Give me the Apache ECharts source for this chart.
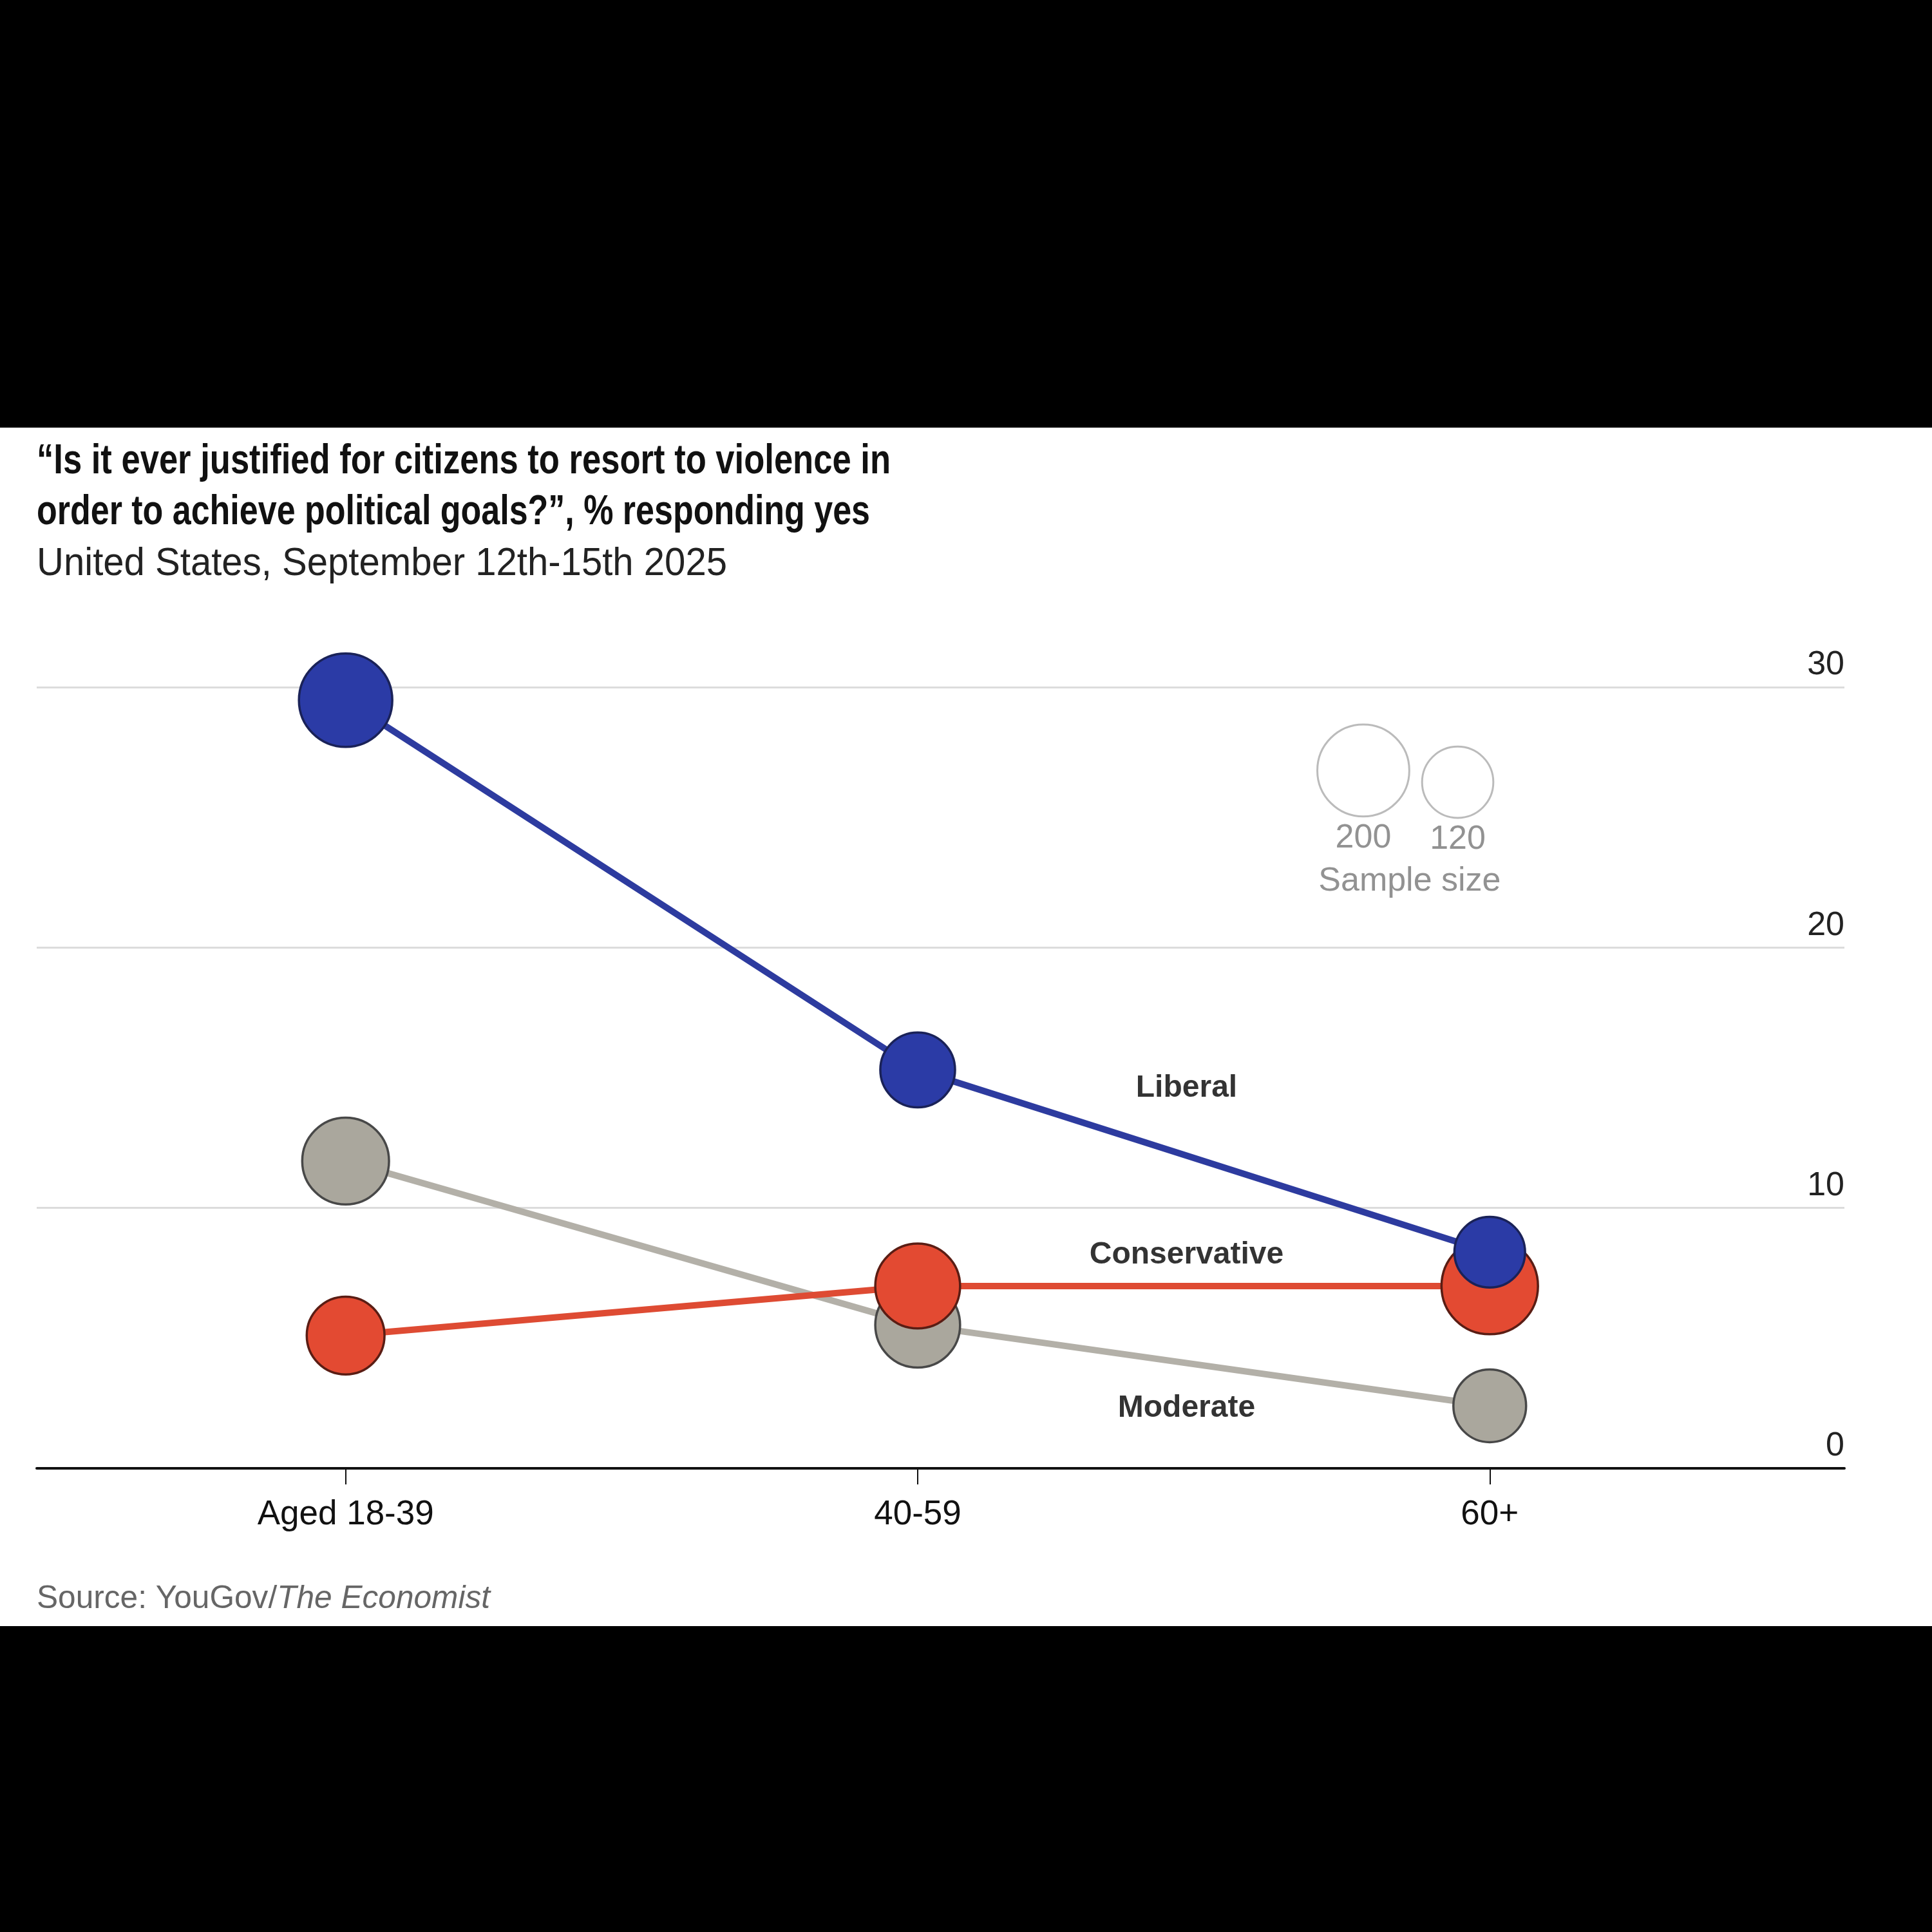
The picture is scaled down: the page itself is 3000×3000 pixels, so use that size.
<!DOCTYPE html>
<html>
<head>
<meta charset="UTF-8">
<title>Political violence by age and ideology</title>
<script src="https://cdn.jsdelivr.net/npm/echarts@6/dist/echarts.min.js"></script>
<style>
  html, body { margin: 0; padding: 0; background: #000; }
  #chart { position: absolute; left: 0; top: 664px; width: 3000px; height: 1861px; background: #fff; }
</style>
</head>
<body>
<div id="chart"></div>
<script>
// age groups on the x axis
const ageGroups = ["Aged 18-39", "40-59", "60+"];

// % responding yes
const liberal = [29.5, 15.3, 8.3];
const conservative = [5.1, 7.0, 7.0];
const moderate = [11.8, 5.5, 2.4];

// sample sizes (drive bubble size)
const liberalSample = [206, 132, 118];
const conservativeSample = [143, 170, 220];
const moderateSample = [178, 170, 125];

const yTicks = [0, 10, 20, 30];
const legendSamples = [200, 120];

// where the text annotations sit, in data units
const seriesLabelAt = { Liberal: [1.47, 14.6], Conservative: [1.47, 8.2], Moderate: [1.47, 2.3] };
const legendAt = [[1.779, 26.8], [1.944, 26.35]];
const legendTitleAt = [1.86, 22.55];

const sizeFor = (n) => 10.1 * Math.sqrt(n);

// the Economist type is condensed, so squeeze text to the widths in the original
const ctx = document.createElement("canvas").getContext("2d");
function widthOf(text, font) {
  ctx.font = font;
  return ctx.measureText(text).width;
}

const FONT = '"Liberation Sans", Arial, sans-serif';
const titleLines = [
  "\u201cIs it ever justified for citizens to resort to violence in",
  "order to achieve political goals?\u201d, % responding yes",
];
const subtitle = "United States, September 12th-15th 2025";
const titleFont = "bold 64px " + FONT;
const subFont = "62px " + FONT;

const s1 = 1326 / widthOf(titleLines[0], titleFont);
const s2 = 1294 / widthOf(titleLines[1], titleFont);
const s3 = 1072 / widthOf(subtitle, subFont);
const srcW =
  widthOf("Source: YouGov/", "50px " + FONT) +
  widthOf("The Economist", "italic 50px " + FONT);
const s4 = 704 / srcW;

function lineSeries(name, values, samples, color, border, lineColor) {
  return {
    name: name,
    type: "line",
    data: values.map((v, i) => [i, v]),
    symbol: "circle",
    symbolSize: (val, p) => sizeFor(samples[p.dataIndex]),
    showAllSymbol: true,
    lineStyle: { color: lineColor, width: 10 },
    itemStyle: { color: color, borderColor: border, borderWidth: 3.5, opacity: 1 },
    emphasis: { disabled: true },
    z: 3,
  };
}

const chart = echarts.init(document.getElementById("chart"));

const option = {
  animation: false,
  backgroundColor: "#fff",
  grid: { left: 57, right: 136, top: 403, bottom: 245 },
  xAxis: {
    type: "value",
    min: -0.54,
    max: 2.62,
    splitLine: { show: false },
    axisLine: { show: true, onZero: false, lineStyle: { color: "#111", width: 4 } },
    axisTick: { show: true, customValues: [0, 1, 2], length: 25, lineStyle: { color: "#111", width: 2 } },
    axisLabel: {
      customValues: [0, 1, 2],
      formatter: (v) => ageGroups[Math.round(v)],
      fontFamily: FONT,
      fontSize: 53,
      color: "#111",
      margin: 46,
    },
  },
  yAxis: {
    type: "value",
    position: "right",
    min: 0,
    max: 30,
    interval: 10,
    axisLine: { show: false },
    axisTick: { show: false },
    splitLine: { lineStyle: { color: "#dcdcdc", width: 3 } },
    axisLabel: {
      inside: true,
      margin: 0,
      verticalAlign: "bottom",
      padding: [0, 0, 8, 0],
      fontFamily: FONT,
      fontSize: 52,
      color: "#222",
      formatter: (v) => (yTicks.includes(v) ? String(v) : ""),
    },
  },
  series: [
    lineSeries("Moderate", moderate, moderateSample, "#aaa79d", "#484848", "#b3b0a8"),
    lineSeries("Conservative", conservative, conservativeSample, "#e34a32", "#5a1d14", "#de4b33"),
    lineSeries("Liberal", liberal, liberalSample, "#2b3ba6", "#1a2258", "#2d3b9f"),
    {
      // sample size key
      name: "Sample size key",
      type: "scatter",
      data: legendSamples.map((n, i) => [legendAt[i][0], legendAt[i][1], n]),
      symbolSize: (val) => sizeFor(val[2]),
      itemStyle: { color: "rgba(255,255,255,0)", borderColor: "#aaaaaa", borderWidth: 3 },
      label: {
        show: true,
        position: "bottom",
        distance: 6,
        formatter: (p) => String(p.value[2]),
        fontFamily: FONT,
        fontSize: 52,
        color: "#777",
      },
      emphasis: { disabled: true },
      z: 2,
    },
    {
      name: "Annotations",
      type: "scatter",
      symbolSize: 0,
      data: [
        { name: "Liberal", value: seriesLabelAt.Liberal },
        { name: "Conservative", value: seriesLabelAt.Conservative },
        { name: "Moderate", value: seriesLabelAt.Moderate },
        { name: "Sample size", value: legendTitleAt, label: { fontWeight: "normal", color: "#777", fontSize: 52 } },
      ],
      label: {
        show: true,
        position: "inside",
        formatter: "{b}",
        fontFamily: FONT,
        fontSize: 48,
        fontWeight: "bold",
        color: "#000",
      },
      emphasis: { disabled: true },
      z: 4,
    },
  ],
  graphic: [
    {
      type: "text",
      x: 57,
      y: 53,
      scaleX: s1,
      style: { text: titleLines[0], font: titleFont, fill: "#111", verticalAlign: "middle" },
    },
    {
      type: "text",
      x: 57,
      y: 132,
      scaleX: s2,
      style: { text: titleLines[1], font: titleFont, fill: "#111", verticalAlign: "middle" },
    },
    {
      type: "text",
      x: 57,
      y: 212,
      scaleX: s3,
      style: { text: subtitle, font: subFont, fill: "#222", verticalAlign: "middle" },
    },
    {
      type: "text",
      x: 57,
      y: 1819,
      scaleX: s4,
      style: {
        text: "{n|Source: YouGov/}{i|The Economist}",
        verticalAlign: "middle",
        rich: {
          n: { fontFamily: FONT, fontSize: 50, fill: "#666" },
          i: { fontFamily: FONT, fontSize: 50, fontStyle: "italic", fill: "#666" },
        },
      },
    },
  ],
};

chart.setOption(option);
</script>
</body>
</html>
